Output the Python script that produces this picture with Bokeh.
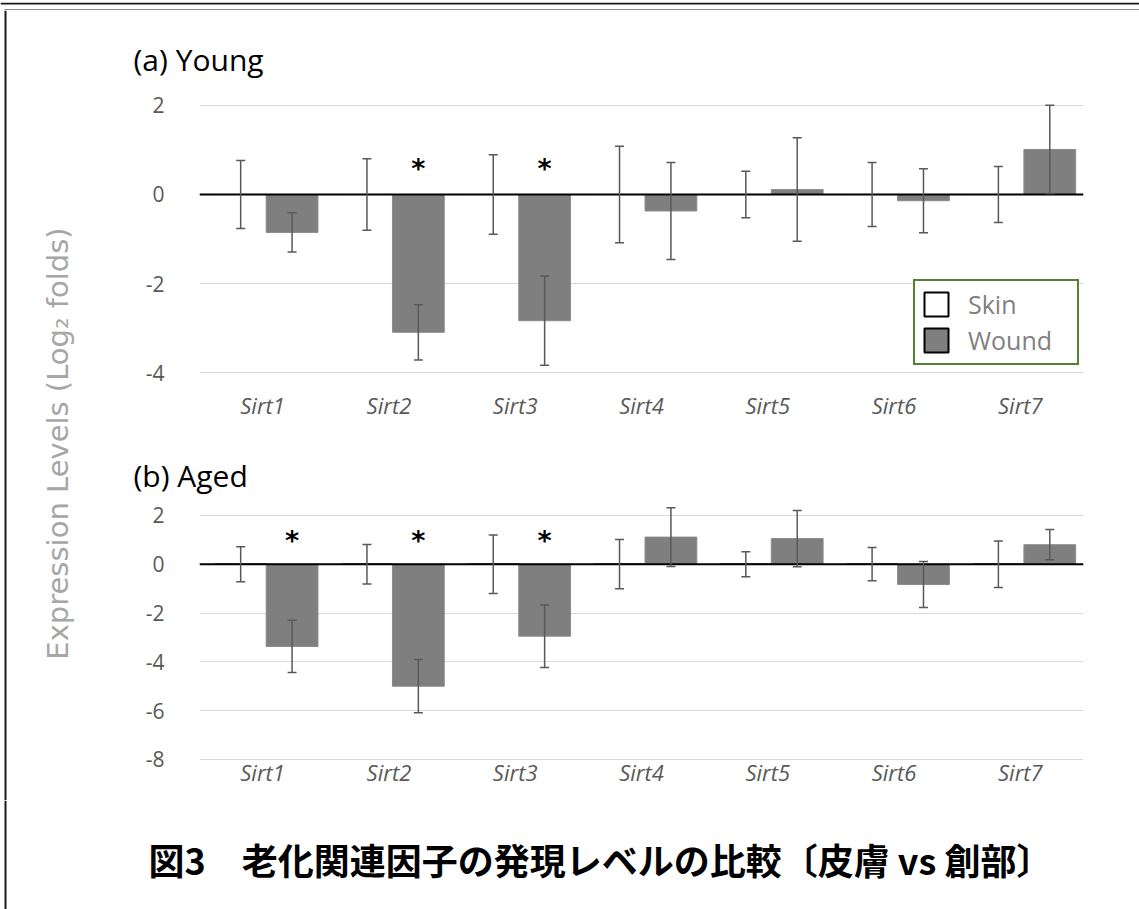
import numpy as np
from bokeh.plotting import figure
from bokeh.models import (ColumnDataSource, FactorRange, Range1d, Span, Whisker, TeeHead,
                          Legend, LegendItem, FixedTicker)
from bokeh.layouts import row, column
from bokeh.transform import dodge
from bokeh.core.properties import value
from bokeh.embed import file_html
from bokeh.resources import INLINE

# ---------------- data ----------------
genes = ["Sirt1", "Sirt2", "Sirt3", "Sirt4", "Sirt5", "Sirt6", "Sirt7"]
series = ["Skin", "Wound"]

young_skin = [0, 0, 0, 0, 0, 0, 0]
young_skin_err = [0.76, 0.80, 0.89, 1.08, 0.52, 0.72, 0.63]
young_wound = [-0.85, -3.09, -2.83, -0.37, 0.11, -0.14, 1.01]
young_wound_err = [0.44, 0.62, 1.00, 1.09, 1.16, 0.72, 0.99]
young_sig = [0, 1, 1, 0, 0, 0, 0]

aged_skin = [0, 0, 0, 0, 0, 0, 0]
aged_skin_err = [0.72, 0.81, 1.20, 1.01, 0.51, 0.68, 0.95]
aged_wound = [-3.37, -5.00, -2.95, 1.11, 1.05, -0.83, 0.80]
aged_wound_err = [1.07, 1.09, 1.28, 1.20, 1.15, 0.94, 0.62]
aged_sig = [1, 1, 1, 0, 0, 0, 0]

young_ticks = [-4, -2, 0, 2]
aged_ticks = [-8, -6, -4, -2, 0, 2]

title_a = "(a) Young"
title_b = "(b) Aged"
y_label = "Expression Levels (Log\u2082 folds)"
caption = "図3　老化関連因子の発現レベルの比較〔皮膚 vs 創部〕"

FONT = "Open Sans"
SKIN_OFF = -0.174
WOUND_OFF = 0.233
BAR_W = 0.41
WOUND_COLOR = "#7f7f7f"
ERR_COLOR = "#595959"


def panel(title, skin, skin_err, wound, wound_err, sig, yr, ticks, height,
          b_top, b_bottom, title_standoff, star_y, label_standoff, legend=False):
    p = figure(width=1019, height=height, title=title,
               x_range=FactorRange(factors=genes, range_padding=0),
               y_range=Range1d(*yr),
               output_backend="svg", toolbar_location=None,
               min_border_left=79, min_border_right=56,
               min_border_top=b_top, min_border_bottom=b_bottom)
    p.title.align = "left"
    p.title.offset = -66
    p.title.standoff = title_standoff
    p.title.text_font = FONT
    p.title.text_font_size = "30px"
    p.title.text_font_style = "normal"
    p.title.text_color = "black"

    p.outline_line_color = None
    p.background_fill_color = "white"
    p.border_fill_color = "white"
    p.xgrid.grid_line_color = None
    p.ygrid.ticker = FixedTicker(ticks=ticks)
    p.ygrid.grid_line_color = "#d9d9d9"
    p.ygrid.grid_line_width = 1.2
    p.yaxis.ticker = FixedTicker(ticks=ticks)
    p.yaxis.major_label_overrides = {t: str(t) for t in ticks}
    for ax in (p.xaxis, p.yaxis):
        ax.axis_line_color = None
        ax.major_tick_line_color = None
        ax.minor_tick_line_color = None
        ax.major_tick_in = 0
        ax.major_tick_out = 0
        ax.major_label_text_font = FONT
        ax.major_label_text_font_size = "21px"
        ax.major_label_text_color = ERR_COLOR
    p.xaxis.major_label_text_font_size = "22px"
    p.yaxis.major_label_standoff = 35
    p.xaxis.major_label_standoff = label_standoff
    p.xaxis.major_label_text_font_style = "italic"

    src = ColumnDataSource(dict(
        cat=genes, skin=skin, wound=wound,
        s_up=[s + e for s, e in zip(skin, skin_err)],
        s_lo=[s - e for s, e in zip(skin, skin_err)],
        w_up=[w + e for w, e in zip(wound, wound_err)],
        w_lo=[w - e for w, e in zip(wound, wound_err)],
    ))
    p.vbar(x=dodge("cat", SKIN_OFF, range=p.x_range), top="skin", width=BAR_W,
           source=src, fill_color="white", line_color="black", line_width=1)
    p.vbar(x=dodge("cat", WOUND_OFF, range=p.x_range), top="wound", width=BAR_W,
           source=src, fill_color=WOUND_COLOR, line_color="#8a8a8a", line_width=1)

    if legend:
        # legend swatches: zero-size, hidden under the zero line
        sw = ColumnDataSource(dict(cat=genes[:1], z=[0]))
        r_s = p.vbar(x=dodge("cat", SKIN_OFF, range=p.x_range), top="z", bottom="z",
                     width=0.001, source=sw,
                     fill_color="white", line_color="black", line_width=2)
        r_w = p.vbar(x=dodge("cat", SKIN_OFF, range=p.x_range), top="z", bottom="z",
                     width=0.001, source=sw,
                     fill_color=WOUND_COLOR, line_color="black", line_width=2)
        lg = Legend(items=[LegendItem(label=series[0], renderers=[r_s]),
                           LegendItem(label=series[1], renderers=[r_w])],
                    location=(714, 19), orientation="vertical",
                    glyph_width=30, glyph_height=30, label_height=24,
                    label_width=103, label_standoff=17, spacing=2, padding=6,
                    margin=0,
                    label_text_font=FONT, label_text_font_size="25px",
                    label_text_color="#7f7f7f", label_text_baseline="middle",
                    border_line_color="#548235", border_line_width=2,
                    border_line_alpha=1.0,
                    background_fill_color="white", background_fill_alpha=1)
        p.add_layout(lg, "center")

    p.add_layout(Span(location=0, dimension="width", line_color="black",
                      line_width=2, level="overlay"))

    for off, up, lo in ((SKIN_OFF, "s_up", "s_lo"), (WOUND_OFF, "w_up", "w_lo")):
        w = Whisker(source=src, base=dodge("cat", off, range=p.x_range),
                    upper=up, lower=lo, line_color=ERR_COLOR, line_width=1.5,
                    upper_head=TeeHead(size=9, line_color=ERR_COLOR, line_width=1.5),
                    lower_head=TeeHead(size=9, line_color=ERR_COLOR, line_width=1.5),
                    level="overlay")
        p.add_layout(w)

    star_src = ColumnDataSource(dict(
        cat=[g for g, s in zip(genes, sig) if s],
        t=["*" for s in sig if s],
    ))
    p.text(x=dodge("cat", WOUND_OFF, range=p.x_range), y=star_y, text="t",
           source=star_src, text_font=value("DejaVu Sans"), text_font_style="bold",
           text_font_size="27px", text_color="black", text_align="center",
           text_baseline="alphabetic")
    return p


# Top panel: frame page y 94..384, zero at 194, 44.6 px/unit
p1 = panel(title_a, young_skin, young_skin_err, young_wound, young_wound_err, young_sig,
           (-4.26, 2.242), young_ticks, 430, 84, 56, 30, 0.585, 5, legend=True)
# Bottom panel: frame page y 500..762, zero at 563.7, 24.4 px/unit
p2 = panel(title_b, aged_skin, aged_skin_err, aged_wound, aged_wound_err, aged_sig,
           (-8.127, 2.611), aged_ticks, 360, 60, 38, 10, 0.99, -6)


def blank(w, h, xr, yr):
    f = figure(width=w, height=h, x_range=xr, y_range=yr, output_backend="svg",
               toolbar_location=None, x_axis_location=None, y_axis_location=None,
               min_border=0)
    f.outline_line_color = None
    f.grid.grid_line_color = None
    f.background_fill_color = "white"
    f.border_fill_color = "white"
    return f


# top frame strip
t = blank(1139, 10, Range1d(0, 1139), Range1d(10, 0))
t.segment(x0=[0, 4, 5], y0=[1, 8, 8], x1=[1139, 1139, 5], y1=[1, 8, 10],
          line_color="#1a1a1a", line_width=2)

# left strip with border and y label (page y 10..800)
left = blank(120, 790, Range1d(0, 120), Range1d(800, 10))
left.segment(x0=[5], y0=[10], x1=[5], y1=[800], line_color="#1a1a1a", line_width=2)
left.text(x=[57], y=[443], text=[y_label], angle=np.pi / 2, text_align="center",
          text_baseline="middle", text_font=value("DejaVu Sans"), text_font_size="29px",
          text_color="#a6a6a6")

# caption strip (page y 800..909)
cap = blank(1139, 109, Range1d(0, 1139), Range1d(909, 800))
cap.segment(x0=[5], y0=[800], x1=[5], y1=[909], line_color="#1a1a1a", line_width=2)
cap.text(x=[600], y=[858], text=[caption], text_align="center", text_baseline="middle",
         text_font=value("Noto Sans CJK JP"), text_font_style="bold",
         text_font_size="36px", text_color="black")

layout = column(t, row(left, column(p1, p2)), cap)

open("out.html", "w").write(file_html(layout, INLINE))
